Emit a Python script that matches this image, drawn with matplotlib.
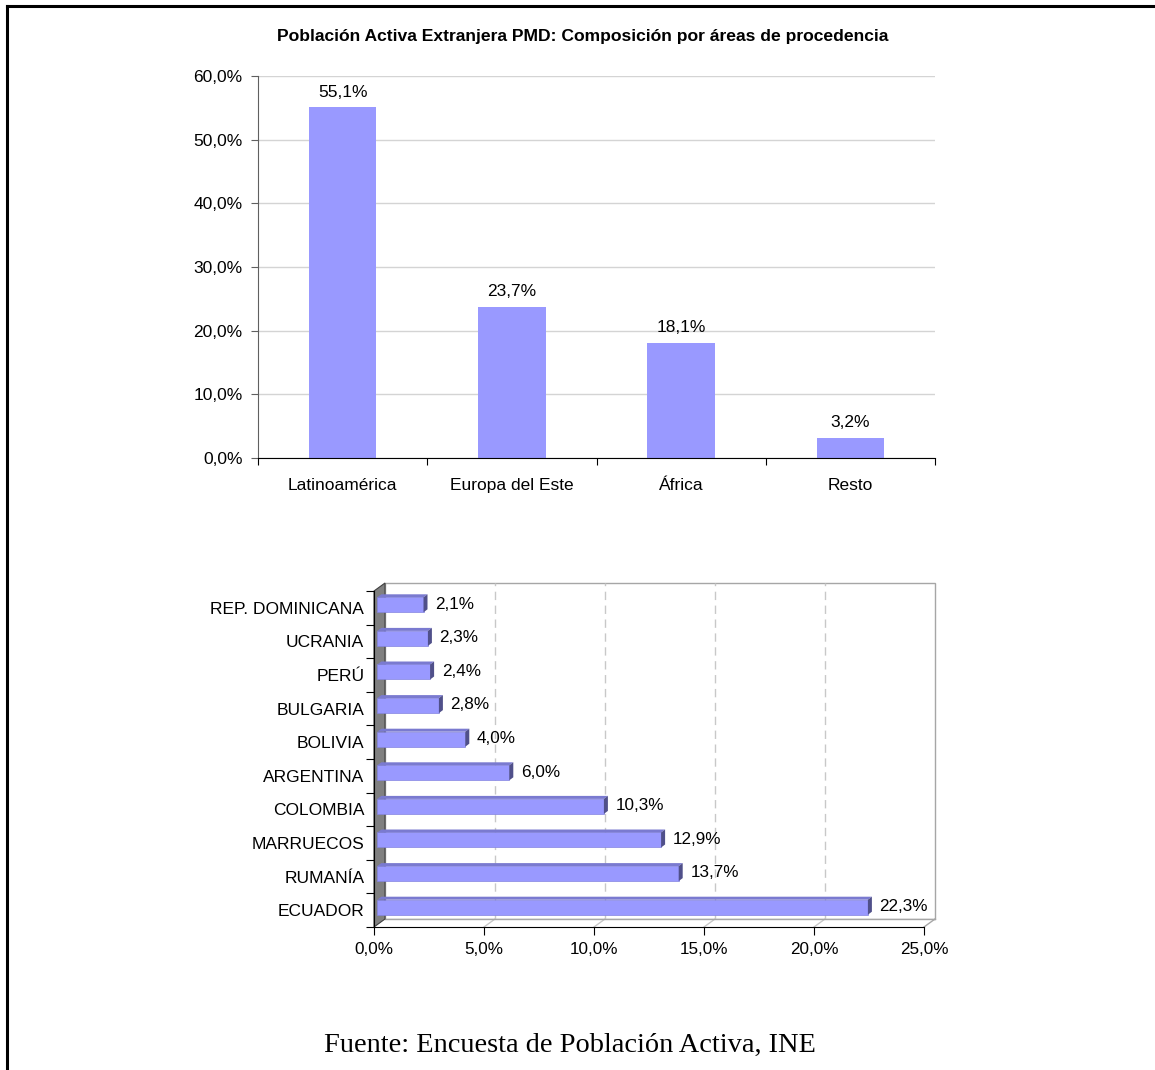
import numpy as np
import matplotlib
matplotlib.use("Agg")
import matplotlib.pyplot as plt
from matplotlib.patches import Polygon, Rectangle
from matplotlib.lines import Line2D

# ---------------- data ----------------
title = "Población Activa Extranjera PMD: Composición por áreas de procedencia"
areas = ["Latinoamérica", "Europa del Este", "África", "Resto"]
areas_vals = [55.1, 23.7, 18.1, 3.2]

# bottom chart, listed from bottom (first) to top (last)
countries = ["ECUADOR", "RUMANÍA", "MARRUECOS", "COLOMBIA", "ARGENTINA",
             "BOLIVIA", "BULGARIA", "PERÚ", "UCRANIA", "REP. DOMINICANA"]
country_vals = [22.3, 13.7, 12.9, 10.3, 6.0, 4.0, 2.8, 2.4, 2.3, 2.1]

top_yticks = [0, 10, 20, 30, 40, 50, 60]
bot_xticks = [0, 5, 10, 15, 20, 25]
source = "Fuente: Encuesta de Población Activa, INE"

def pct(v):
    return f"{v:.1f}%".replace(".", ",")

plt.rcParams['font.family'] = ['Liberation Sans', 'DejaVu Sans']

W, H = 1155, 1070
fig = plt.figure(figsize=(W / 100, H / 100), dpi=100)
fig.patch.set_facecolor("white")

def rect(l, t, r, b):
    return [l / W, 1 - b / H, (r - l) / W, (b - t) / H]

# ---------------- frame ----------------
fig.add_artist(Line2D([7 / W, 7 / W], [0, 1 - 6 / H], transform=fig.transFigure,
                      color="black", lw=2.2))
fig.add_artist(Line2D([7 / W, 1], [1 - 6 / H, 1 - 6 / H], transform=fig.transFigure,
                      color="black", lw=2.2))

# ---------------- title ----------------
fig.text(583 / W, 1 - 36 / H, title, ha="center", va="center",
         fontsize=12.6, fontweight="bold")

# ---------------- top chart ----------------
ax1 = fig.add_axes(rect(258, 76, 935, 458))
x = np.arange(len(areas))
ax1.bar(x, areas_vals, width=0.4, color="#9999ff", zorder=2)
ax1.set_xlim(-0.5, len(areas) - 0.5)
ax1.set_ylim(0, 60)
ax1.set_yticks(top_yticks)
ax1.set_yticklabels([pct(v) for v in top_yticks], fontsize=12.5)
ax1.yaxis.grid(True, color="#d4d4d4", lw=1)
ax1.set_axisbelow(True)
ax1.set_xticks(np.arange(-0.5, len(areas), 1))
ax1.set_xticklabels([])
ax1.set_xticks(x, minor=True)
ax1.set_xticklabels(areas, minor=True, fontsize=12.5)
ax1.tick_params(axis="x", which="major", length=5, color="black")
ax1.tick_params(axis="x", which="minor", length=0, pad=14.5)
ax1.tick_params(axis="y", length=5, pad=6, color="#606060")
for s in ["top", "right"]:
    ax1.spines[s].set_visible(False)
ax1.spines["left"].set_color("#606060")
ax1.spines["bottom"].set_color("black")
for xi, v in zip(x, areas_vals):
    ax1.text(xi, v + 1.2, pct(v), ha="center", va="bottom", fontsize=12.5)

# ---------------- bottom chart (pseudo 3D) ----------------
ax2 = fig.add_axes(rect(374, 591, 924, 927))
n = len(countries)
ax2.set_xlim(0, 25)
ax2.set_ylim(-0.5, n - 0.5)
ax2.patch.set_visible(False)

DX, DY = 11 / 22, 8 / 33.6     # wall depth in data units
y0, y1 = -0.5, n - 0.5

# back wall
ax2.add_patch(Rectangle((DX, y0 + DY), 25, n, facecolor="white",
                        edgecolor="#a6a6a6", lw=1, clip_on=False, zorder=0))
# gridlines on back wall and floor
for g in bot_xticks[1:-1]:
    ax2.plot([g + DX, g + DX], [y0 + DY, y1 + DY], color="#c8c8c8", lw=1,
             ls=(0, (6, 4)), clip_on=False, zorder=0.5)
    ax2.plot([g, g + DX], [y0, y0 + DY], color="#c8c8c8", lw=1,
             clip_on=False, zorder=0.5)
# floor
ax2.add_patch(Polygon([(0, y0), (25, y0), (25 + DX, y0 + DY), (DX, y0 + DY)],
                      closed=True, facecolor="white", edgecolor="none",
                      clip_on=False, zorder=0.4))
ax2.plot([DX, 25 + DX], [y0 + DY, y0 + DY], color="#a6a6a6", lw=1, clip_on=False, zorder=0.6)
ax2.plot([25, 25 + DX], [y0, y0 + DY], color="#a6a6a6", lw=1, clip_on=False, zorder=0.6)
# left wall
ax2.add_patch(Polygon([(0, y0), (0, y1), (DX, y1 + DY), (DX, y0 + DY)],
                      closed=True, facecolor="#808080", edgecolor="#404040",
                      lw=0.8, clip_on=False, zorder=1))

# bars
fx, fy = 3.3 / 22, 3 / 33.6
bh = 15 / 33.6
bdx, bdy = 4 / 22, 3 / 33.6
yy = np.arange(n)
ax2.barh(yy + fy, country_vals, left=fx, height=bh, color="#9999ff",
         edgecolor="#8484e0", lw=0.5, zorder=3)
for yi, v in zip(yy, country_vals):
    top = yi + fy + bh / 2
    bot = yi + fy - bh / 2
    xe = v + fx
    ax2.add_patch(Polygon([(fx, top), (xe, top), (xe + bdx, top + bdy), (fx + bdx, top + bdy)],
                          closed=True, facecolor="#7a7ad0", edgecolor="none", zorder=3))
    ax2.add_patch(Polygon([(xe, bot), (xe, top), (xe + bdx, top + bdy), (xe + bdx, bot + bdy)],
                          closed=True, facecolor="#50508a", edgecolor="none", zorder=3))
    ax2.text(xe + bdx + 0.35, yi + fy + 0.02, pct(v), ha="left", va="center",
             fontsize=12.3, zorder=4)

ax2.set_xticks(bot_xticks)
ax2.set_xticklabels([pct(v) for v in bot_xticks], fontsize=12.3)
ax2.tick_params(axis="x", length=6, pad=5, color="black")
ax2.set_yticks(np.arange(-0.5, n, 1))
ax2.set_yticklabels([])
ax2.set_yticks(yy, minor=True)
ax2.set_yticklabels(countries, minor=True, fontsize=12.5)
ax2.tick_params(axis="y", which="major", length=6, color="black")
ax2.tick_params(axis="y", which="minor", length=0, pad=7)
for s in ["top", "right"]:
    ax2.spines[s].set_visible(False)
ax2.spines["left"].set_color("black")
ax2.spines["bottom"].set_color("black")
ax2.spines["left"].set_zorder(5)
ax2.spines["bottom"].set_zorder(5)

# ---------------- source ----------------
fig.text(570 / W, 1 - 1045 / H, source, ha="center", va="center",
         fontsize=20.4, family=["Liberation Serif", "DejaVu Serif"])

fig.savefig("out.png", dpi=100)
